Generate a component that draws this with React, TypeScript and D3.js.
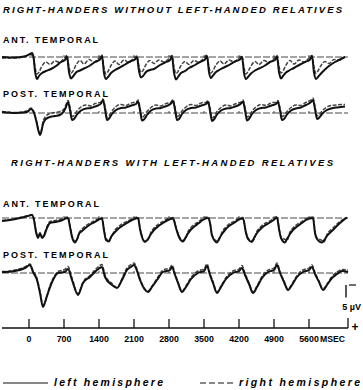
import * as d3 from 'd3'

// EEG averages, [ms, µV] (positive = downward, i.e. "+" as on the scale bar)
const antWithoutLeft: [number, number][] = [
  [-540, 0], [-300, 0.2], [-100, -0.2], [20, -1.2], [60, -1.6], [90, 0], [120, 5.6], [160, 8.8], [200, 7.6], [260, 6.4], [340, 5.6], [440, 4.8], [540, 3.6], [640, 2],
  [720, 1.2], [760, -0.2], [800, 6], [840, 8.6], [880, 7.8], [940, 6.2], [1020, 5.4], [1100, 4.6], [1220, 3.4], [1320, 2],
  [1420, 1], [1460, -0.4], [1500, 6.4], [1540, 8.8], [1580, 8], [1640, 6.4], [1720, 5.2], [1800, 4.4], [1920, 3], [2020, 1.8],
  [2120, 1], [2160, 0], [2200, 5.6], [2240, 8.2], [2280, 7.6], [2340, 6], [2420, 5.2], [2500, 4.8], [2620, 3.2], [2720, 2.2],
  [2820, 1.2], [2860, -0.2], [2900, 6.2], [2940, 9], [2980, 8], [3040, 6.4], [3120, 5.6], [3200, 4.4], [3320, 3.2], [3420, 2],
  [3520, 1], [3560, -0.4], [3600, 6], [3640, 8.4], [3680, 7.4], [3740, 6], [3820, 5], [3900, 4.2], [4020, 3], [4120, 1.8],
  [4220, 1], [4260, 0], [4300, 6.4], [4340, 8.8], [4380, 8], [4440, 6.6], [4520, 5.4], [4600, 4.6], [4720, 3.4], [4820, 2],
  [4920, 1.2], [4960, -0.2], [5000, 6], [5040, 8.6], [5080, 7.6], [5140, 6.2], [5220, 5.2], [5300, 4.4], [5420, 3], [5520, 2],
  [5620, 1], [5660, -0.4], [5700, 6.2], [5740, 8.8], [5780, 8], [5840, 6.6], [5920, 5], [6000, 3.6], [6120, 2], [6220, 1], [6320, 0],
]
const antWithoutRight: [number, number][] = [
  [-540, 0.4], [-300, 0.4], [-100, 0], [20, -1], [80, -0.4], [120, 4], [160, 6.8], [200, 6], [260, 3.6], [340, 2], [420, 3], [520, 1.6], [620, 2.2], [680, 1],
  [760, -0.6], [800, 4], [840, 6.4], [880, 5.6], [940, 3.2], [1020, 1.4], [1100, 2.8], [1200, 1], [1300, 2], [1380, 0.8],
  [1460, -0.8], [1500, 4.4], [1540, 6.8], [1580, 5.8], [1640, 3.4], [1720, 1.6], [1800, 3], [1900, 1.2], [2000, 2.2], [2080, 0.8],
  [2160, -0.4], [2200, 3.8], [2240, 6.2], [2280, 5.4], [2340, 3], [2420, 1.4], [2500, 2.6], [2600, 1.2], [2700, 2], [2780, 1],
  [2860, -0.6], [2900, 4.2], [2940, 6.6], [2980, 5.8], [3040, 3.4], [3120, 1.8], [3200, 3], [3300, 1.4], [3400, 2.2], [3480, 0.8],
  [3560, -0.8], [3600, 4], [3640, 6.4], [3680, 5.4], [3740, 3.2], [3820, 1.6], [3900, 2.8], [4000, 1.2], [4100, 2], [4180, 0.8],
  [4260, -0.4], [4300, 4.2], [4340, 6.8], [4380, 5.8], [4440, 3.6], [4520, 1.8], [4600, 3], [4700, 1.4], [4800, 2.2], [4880, 1],
  [4960, -0.6], [5000, 3.8], [5040, 6.4], [5080, 5.6], [5140, 3.2], [5220, 1.4], [5300, 2.8], [5400, 1.2], [5500, 2], [5580, 0.8],
  [5660, -0.6], [5700, 4], [5740, 6.6], [5780, 5.6], [5840, 3.4], [5920, 1.8], [6000, 2.6], [6100, 1], [6200, 1.2], [6320, -0.2],
]
const postWithoutLeft: [number, number][] = [
  [-540, -0.4], [-280, 0], [-40, -0.4], [40, -1.6], [100, 0], [150, 3.6], [190, 7.2], [220, 8.8], [250, 7.2], [280, 4.4], [340, 2.4], [420, 1.6], [520, 1.2], [620, 0.8], [700, -0.8],
  [740, -2.4], [780, -4.4], [820, -1.2], [860, 2.8], [900, 2.4], [960, 0.6], [1040, -1], [1140, -1.8], [1240, -2], [1320, -2.6], [1380, -3],
  [1440, -3.8], [1480, -5.2], [1520, -1.6], [1560, 2.8], [1600, 2.2], [1660, 0.4], [1740, -1.2], [1840, -2], [1940, -2.2], [2020, -2.8], [2080, -3.2],
  [2140, -3.6], [2180, -4.6], [2220, -1.2], [2260, 3], [2300, 2.6], [2360, 0.8], [2440, -1], [2540, -1.8], [2640, -2], [2720, -2.6], [2780, -3],
  [2840, -3.8], [2880, -4.8], [2920, -1.4], [2960, 2.8], [3000, 2.4], [3060, 0.4], [3140, -1.2], [3240, -2], [3340, -2.2], [3420, -2.8], [3480, -3.2],
  [3540, -3.6], [3580, -4.4], [3620, -1], [3660, 3.2], [3700, 2.6], [3760, 0.6], [3840, -1], [3940, -1.8], [4040, -2], [4120, -2.6], [4180, -3],
  [4240, -3.8], [4280, -4.6], [4320, -1.2], [4360, 3], [4400, 2.4], [4460, 0.4], [4540, -1.2], [4640, -2], [4740, -2.2], [4820, -2.8], [4880, -3.2],
  [4940, -3.6], [4980, -4.4], [5020, -1], [5060, 2.8], [5100, 2.4], [5160, 0.6], [5240, -1], [5340, -1.8], [5440, -2.2], [5520, -3], [5580, -3.6],
  [5640, -4.4], [5680, -5.2], [5720, -1.6], [5760, 2.4], [5800, 2], [5860, 0.4], [5940, -1], [6040, -1.8], [6140, -2.2], [6240, -2.4], [6320, -2.6],
]
const postWithoutRight: [number, number][] = [
  [-540, -0.6], [-280, -0.2], [-40, -0.8], [40, -2], [100, -0.4], [150, 3.2], [190, 6.8], [220, 8.2], [250, 6.6], [280, 3.4], [340, 1.2], [420, 0.2], [520, -0.2], [620, -0.6], [700, -1.6],
  [740, -3.4], [780, -5], [820, -2.4], [860, 1.4], [900, 1], [960, -0.8], [1040, -2.4], [1140, -3.2], [1240, -2.8], [1320, -3.8], [1380, -4],
  [1440, -4.4], [1480, -5.6], [1520, -2.6], [1560, 1.6], [1600, 1], [1660, -0.8], [1740, -2.6], [1840, -3.4], [1940, -3], [2020, -3.8], [2080, -4.2],
  [2140, -4.2], [2180, -5.2], [2220, -2.2], [2260, 1.8], [2300, 1.2], [2360, -0.6], [2440, -2.2], [2540, -3.2], [2640, -2.8], [2720, -3.6], [2780, -4],
  [2840, -4.4], [2880, -5.4], [2920, -2.4], [2960, 1.4], [3000, 1], [3060, -0.8], [3140, -2.4], [3240, -3.4], [3340, -3], [3420, -3.8], [3480, -4.2],
  [3540, -4.2], [3580, -5], [3620, -2], [3660, 2], [3700, 1.4], [3760, -0.6], [3840, -2.2], [3940, -3.2], [4040, -2.8], [4120, -3.6], [4180, -4],
  [4240, -4.4], [4280, -5.2], [4320, -2.2], [4360, 1.6], [4400, 1.2], [4460, -0.8], [4540, -2.4], [4640, -3.4], [4740, -3], [4820, -3.8], [4880, -4.2],
  [4940, -4.2], [4980, -5], [5020, -2], [5060, 1.4], [5100, 1], [5160, -0.6], [5240, -2.2], [5340, -3.2], [5440, -3], [5520, -4], [5580, -4.6],
  [5640, -5.2], [5680, -6], [5720, -2.6], [5760, 1.2], [5800, 0.8], [5860, -0.8], [5940, -2.2], [6040, -3], [6140, -3.2], [6240, -3.4], [6320, -3.4],
]
const antWithLeft: [number, number][] = [
  [-540, 1.2], [-380, 0.8], [-180, 0], [-20, -0.8], [60, -1.2], [100, 0.8], [140, 5.6], [180, 8], [220, 6], [260, 8], [300, 7.2], [360, 4], [420, 2], [520, 1.6], [620, 1.2],
  [780, 0], [820, 3.6], [860, 7.6], [920, 9.8], [960, 8.6], [1000, 6.4], [1060, 5.2], [1140, 3.8], [1220, 2.6], [1300, 1.8], [1380, 0.8],
  [1460, 0.2], [1500, 5], [1540, 8.8], [1600, 9.4], [1640, 7.6], [1720, 5.6], [1780, 4.4], [1860, 3.2], [1960, 2], [2060, 0.8],
  [2180, 0], [2220, 4.4], [2260, 7.6], [2320, 9.6], [2380, 8.4], [2440, 6.4], [2500, 4.8], [2580, 3.4], [2680, 2], [2760, 1],
  [2880, 0.2], [2940, 4], [3000, 7.6], [3080, 9.4], [3120, 8.2], [3180, 6.2], [3240, 4.6], [3320, 3.2], [3400, 2], [3460, 1],
  [3580, 0], [3620, 2], [3660, 7], [3760, 9.8], [3800, 8.4], [3860, 6.4], [3920, 4.8], [4000, 3.2], [4100, 2], [4180, 0.8],
  [4280, 0.2], [4340, 6], [4380, 8.4], [4460, 9.6], [4500, 8], [4560, 6], [4620, 4.6], [4700, 3.2], [4800, 2], [4880, 1],
  [4960, -0.2], [5000, 4.4], [5040, 8], [5120, 9.8], [5160, 8.4], [5220, 6.4], [5280, 4.8], [5360, 3.4], [5460, 2], [5540, 0.8],
  [5680, 0], [5720, 6], [5760, 8.4], [5860, 9.8], [5900, 9], [5960, 7.2], [6080, 4.8], [6220, 2], [6360, -0.2],
]
const antWithRight: [number, number][] = [
  [-540, 1], [-380, 0.6], [-180, -0.2], [-20, -1], [60, -1.4], [100, 0.4], [140, 5], [180, 7.6], [220, 6.4], [260, 7.6], [300, 6.6], [360, 3.4], [420, 1.4], [520, 1], [620, 0.6],
  [780, -0.4], [820, 3], [860, 7], [920, 9.2], [960, 8.8], [1000, 6], [1060, 4.4], [1140, 3], [1220, 2], [1300, 1.2], [1380, 0.4],
  [1460, -0.2], [1500, 4.4], [1540, 8.2], [1600, 9], [1640, 7.8], [1720, 4.8], [1780, 3.6], [1860, 2.4], [1960, 1.4], [2060, 0.4],
  [2180, -0.4], [2220, 4], [2260, 7.2], [2320, 9.2], [2380, 8.8], [2440, 5.6], [2500, 4], [2580, 2.6], [2680, 1.4], [2760, 0.4],
  [2880, -0.2], [2940, 3.6], [3000, 7.2], [3080, 9], [3120, 8.6], [3180, 5.4], [3240, 3.8], [3320, 2.4], [3400, 1.4], [3460, 0.4],
  [3580, -0.4], [3620, 1.6], [3660, 6.6], [3760, 9.2], [3800, 8.8], [3860, 5.6], [3920, 4], [4000, 2.4], [4100, 1.4], [4180, 0.2],
  [4280, -0.2], [4340, 5.4], [4380, 8], [4460, 9], [4500, 8.6], [4560, 5.2], [4620, 3.8], [4700, 2.4], [4800, 1.4], [4880, 0.4],
  [4960, -0.6], [5000, 4], [5040, 7.6], [5120, 8.6], [5160, 9], [5220, 5.6], [5280, 4], [5360, 2.6], [5460, 1.4], [5540, 0.2],
  [5680, -0.4], [5720, 5.4], [5760, 8], [5860, 9], [5900, 9.6], [5960, 6.6], [6080, 4], [6220, 1.4], [6360, -0.2],
]
const postWithLeft: [number, number][] = [
  [-540, -0.4], [-480, -0.4], [-280, -0.8], [-80, -2], [20, -3.2], [80, -0.4], [160, 2.8], [220, 8], [280, 13.6], [340, 10.4], [380, 8], [480, 2.8], [580, 0], [720, -0.4],
  [780, -1.6], [860, 2.8], [980, 8.8], [1080, 4], [1220, 1.6], [1360, -1.2],
  [1460, -2.4], [1520, 1.6], [1660, 4.8], [1760, 6], [1860, 2.8], [1960, -1.2], [2040, -2.4],
  [2100, -3.2], [2160, -0.8], [2220, 2.8], [2380, 7.6], [2460, 5.6], [2560, 2.8], [2680, -0.4], [2820, -1.2],
  [2860, -2.4], [2920, 0.8], [2980, 4], [3060, 7.6], [3140, 5.6], [3240, 2.4], [3380, 0], [3500, -0.8],
  [3560, -2.8], [3620, 0.8], [3680, 4], [3760, 8], [3840, 5.6], [3940, 2.4], [4080, 0], [4200, -0.8],
  [4260, -2], [4320, 0.8], [4400, 4.4], [4480, 8], [4560, 5.6], [4660, 2], [4780, -0.4], [4900, -1.2],
  [4960, -3.2], [5020, 0], [5100, 3.6], [5180, 6.8], [5260, 4.8], [5360, 1.6], [5480, -0.4], [5600, -1.2],
  [5660, -2.4], [5720, 0.4], [5800, 3.6], [5880, 6.8], [5960, 4.8], [6060, 2], [6160, 0.4], [6260, -0.8], [6380, -0.4],
]
const postWithRight: [number, number][] = [
  [-540, -0.6], [-480, -0.6], [-280, -1.2], [-80, -2.4], [20, -3.6], [80, -1], [160, 2.2], [220, 7.4], [280, 12.8], [340, 10.8], [380, 7.6], [480, 2.2], [580, -0.6], [720, -1.4],
  [780, -2.6], [860, 2], [980, 8.2], [1080, 3.6], [1220, 1], [1360, -2],
  [1460, -3.4], [1520, 0.8], [1660, 4.2], [1760, 5.8], [1860, 2.2], [1960, -2], [2040, -3.4],
  [2100, -4], [2160, -1.6], [2220, 2.2], [2380, 7.2], [2460, 5.2], [2560, 2.2], [2680, -1.2], [2820, -2],
  [2860, -3.2], [2920, 0.2], [2980, 3.6], [3060, 7.2], [3140, 5.2], [3240, 1.8], [3380, -0.8], [3500, -1.6],
  [3560, -3.6], [3620, 0.2], [3680, 3.4], [3760, 7.6], [3840, 5.2], [3940, 1.8], [4080, -0.8], [4200, -1.6],
  [4260, -3], [4320, 0.2], [4400, 4], [4480, 7.6], [4560, 5.2], [4660, 1.4], [4780, -1.2], [4900, -2],
  [4960, -4], [5020, -0.6], [5100, 3.2], [5180, 6.4], [5260, 4.4], [5360, 1], [5480, -1.2], [5600, -2],
  [5660, -3.2], [5720, -0.2], [5800, 3.2], [5880, 6.4], [5960, 4.4], [6060, 1.4], [6160, -0.4], [6260, -1.4], [6380, -1.2],
]

const tickTimes = [0, 700, 1400, 2100, 2800, 3500, 4200, 4900, 5600]
const stimulusTimes = [700, 1400, 2100, 2800, 3500, 4200, 4900, 5600]

const W = 363
const H = 390
const font = '"Liberation Sans", Arial, sans-serif'

const x = d3.scaleLinear().domain([0, 5600]).range([29, 309])
const tMin = -540
const tMax = 6380

function Trace({ y0, label, labelY, labelLen, left, right }: {
  y0: number; label: string; labelY: number; labelLen: number;
  left: [number, number][]; right: [number, number][]
}) {
  const y = d3.scaleLinear().domain([0, 10]).range([y0, y0 + 25])
  const path = d3.line<[number, number]>().x(d => x(d[0])).y(d => y(d[1])).curve(d3.curveMonotoneX)
  return (
    <g>
      <text x={3} y={labelY} fontFamily={font} fontWeight="bold" fontSize={9} textLength={labelLen} lengthAdjust="spacing">{label}</text>
      <line x1={x(tMin)} x2={x(tMax)} y1={y(0)} y2={y(0)} stroke="#333" strokeWidth={0.9} strokeDasharray="7,2" />
      {stimulusTimes.map(t => (
        <line key={t} x1={x(t)} x2={x(t)} y1={y(0) - 2} y2={y(0)} stroke="#333" strokeWidth={0.9} />
      ))}
      <path d={path(right) || ''} fill="none" stroke="#444" strokeWidth={1.5} strokeDasharray="4,1.5" />
      <path d={path(left) || ''} fill="none" stroke="#111" strokeWidth={2} strokeLinejoin="round" />
    </g>
  )
}

export default function App() {
  const axisY = 328
  return (
    <svg width={W} height={H} style={{ display: 'block', position: 'absolute', left: 0, top: 0, background: '#fff' }}>
      <text x={3} y={13} fontFamily={font} fontWeight="bold" fontStyle="italic" fontSize={9.5} textLength={339} lengthAdjust="spacing">RIGHT-HANDERS WITHOUT LEFT-HANDED RELATIVES</text>
      <Trace y0={57} label="ANT. TEMPORAL" labelY={43} labelLen={95} left={antWithoutLeft} right={antWithoutRight} />
      <Trace y0={113} label="POST. TEMPORAL" labelY={97} labelLen={105} left={postWithoutLeft} right={postWithoutRight} />

      <text x={11} y={166} fontFamily={font} fontWeight="bold" fontStyle="italic" fontSize={9.5} textLength={322} lengthAdjust="spacing">RIGHT-HANDERS WITH LEFT-HANDED RELATIVES</text>
      <Trace y0={218} label="ANT. TEMPORAL" labelY={207} labelLen={96} left={antWithLeft} right={antWithRight} />
      <Trace y0={273} label="POST. TEMPORAL" labelY={258} labelLen={105} left={postWithLeft} right={postWithRight} />

      {/* time axis */}
      <line x1={2} x2={348} y1={axisY} y2={axisY} stroke="#111" strokeWidth={1.5} />
      <line x1={348} x2={348} y1={318} y2={axisY} stroke="#111" strokeWidth={1.3} />
      {tickTimes.map(t => (
        <g key={t}>
          <line x1={x(t)} x2={x(t)} y1={319} y2={axisY} stroke="#111" strokeWidth={1.3} />
          <text x={x(t)} y={342} textAnchor="middle" fontFamily={font} fontWeight="bold" fontSize={8.8}>{t}</text>
        </g>
      ))}
      <text x={320} y={342} fontFamily={font} fontWeight="bold" fontSize={8.8} textLength={25} lengthAdjust="spacingAndGlyphs">MSEC</text>
      <text x={355} y={331} textAnchor="middle" fontFamily={font} fontWeight="bold" fontSize={12}>+</text>

      {/* 5 µV scale bar */}
      <line x1={346} x2={346} y1={285} y2={297.5} stroke="#111" strokeWidth={1.4} />
      <line x1={349} x2={356} y1={285} y2={285} stroke="#111" strokeWidth={1.2} />
      <text x={361} y={310} textAnchor="end" fontFamily={font} fontWeight="bold" fontSize={9}>5 µV</text>

      {/* legend */}
      <line x1={3} x2={48} y1={383} y2={383} stroke="#111" strokeWidth={1.2} />
      <text x={54} y={386} fontFamily={font} fontWeight="bold" fontStyle="italic" fontSize={10.5} textLength={109} lengthAdjust="spacing">left hemisphere</text>
      <line x1={200} x2={235} y1={383} y2={383} stroke="#111" strokeWidth={1.2} strokeDasharray="6,3" />
      <text x={239} y={386} fontFamily={font} fontWeight="bold" fontStyle="italic" fontSize={10.5} textLength={121} lengthAdjust="spacing">right hemisphere</text>
    </svg>
  )
}
